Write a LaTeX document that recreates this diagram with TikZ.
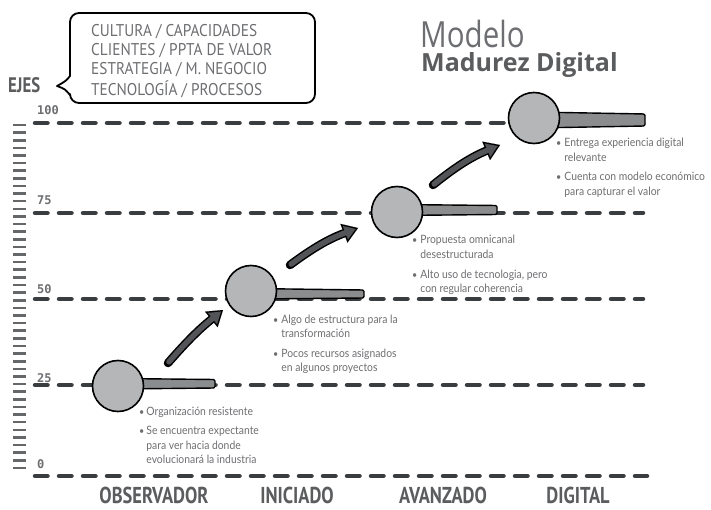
\documentclass[tikz,border=0pt]{standalone}
\usepackage{fontspec}
\setmainfont{Lato}
\newfontfamily\capsfont[FakeStretch=0.8]{PT Sans}
\newfontfamily\bubblefont[FakeStretch=0.9]{PT Sans}
\newfontfamily\titlefont[FakeStretch=0.82]{Open Sans}
\newfontfamily\titleboldfont{Open Sans}
\newfontfamily\numfont{DejaVu Sans Mono}
\newfontfamily\bulletfont[FakeStretch=0.9]{Lato}
\usetikzlibrary{arrows.meta}
\definecolor{dashc}{HTML}{3A3D40}
\definecolor{circc}{HTML}{B4B6B7}
\definecolor{barc}{HTML}{8A8C8E}
\definecolor{arrc}{HTML}{525457}
\definecolor{txtc}{HTML}{6D6E71}
\definecolor{labc}{HTML}{5B5C5E}
\definecolor{tickc}{HTML}{666769}
\newcommand{\bdot}{{\fontsize{10}{10}\selectfont\textbullet}}
\begin{document}
\begin{tikzpicture}[x=1pt,y=-1pt,
  dashline/.style={draw=dashc, line width=4.5pt, line cap=round, dash pattern=on 12.5pt off 11.5pt},
  tickline/.style={draw=tickc, line width=2.6pt},
  circ/.style={circle, draw=black, line width=1.6pt, fill=circc, minimum size=51pt, inner sep=0pt},
  barshape/.style={draw=black, fill=barc, line width=1.4pt, rounded corners=1.5pt},
  arrout/.style={draw=black, line width=8.5pt, line cap=round, -{Triangle[length=15pt,width=20pt,line width=0.01pt]}},
  arrin/.style={draw=arrc, line width=5.5pt, line cap=round, shorten >=2.7pt, shorten <=1.5pt, -{Triangle[length=10.8pt,width=14.4pt,line width=0.01pt]}},
  numlab/.style={font=\numfont\bfseries\fontsize{12}{12}\selectfont, text=txtc, anchor=base west, inner sep=0pt},
  stage/.style={font=\capsfont\bfseries\fontsize{23}{23}\selectfont, text=labc, anchor=base, inner sep=0pt},
  bul/.style={font=\bulletfont\fontsize{11.5}{14.5}\selectfont, text=txtc, anchor=base west, inner sep=0pt},
]
\useasboundingbox (0,0) rectangle (711,510);

% ruler ticks
\foreach \i in {0,...,45}{
  \draw[tickline] (13,{125+\i*7.62}) -- (26,{125+\i*7.62});
}

% dashed level lines
\draw[dashline] (35,123) -- (643,123);
\draw[dashline] (35,213) -- (643,213);
\draw[dashline] (35,299) -- (643,299);
\draw[dashline] (35,385) -- (643,385);
\draw[dashline] (35,476) -- (647,476);

% level numbers
\node[numlab] (n100) at (37,115) {100};
\node[numlab] (n75) at (37,205) {75};
\node[numlab] (n50) at (37,294) {50};
\node[numlab] (n25) at (37,382) {25};
\node[numlab] (n0) at (37,468) {0};

% bars
\draw[barshape] (118,378.5) -- (215,379.5) -- (215,388) -- (118,389) -- cycle;
\draw[barshape] (251,288.5) -- (364,290) -- (364,298) -- (251,299) -- cycle;
\draw[barshape] (397,204.5) -- (497,205.5) -- (497,214.5) -- (397,215.5) -- cycle;
\draw[barshape] (534,112) -- (645,114) -- (645,126) -- (534,128) -- cycle;

% circles
\node[circ] (c1) at (118,386) {};
\node[circ] (c2) at (251,291) {};
\node[circ] (c3) at (397,212) {};
\node[circ] (c4) at (534,118) {};

% arrows
\coordinate (a1s) at (168,363);
\coordinate (a1e) at (223,310);
\coordinate (a2s) at (290,265);
\coordinate (a2e) at (358,228);
\coordinate (a3s) at (433,185);
\coordinate (a3e) at (500,145);
\draw[arrout] (a1s) to[bend left=5] (a1e);
\draw[arrin] (a1s) to[bend left=5] (a1e);
\draw[arrout] (a2s) to[bend left=8] (a2e);
\draw[arrin] (a2s) to[bend left=8] (a2e);
\draw[arrout] (a3s) to[bend left=8] (a3e);
\draw[arrin] (a3s) to[bend left=8] (a3e);

% bullet texts
\node[bul] (b1) at (139,415) {\begin{tabular}[t]{@{}l@{\hspace{2pt}}l@{}}
\bdot & Organización resistente\\[5pt]
\bdot & Se encuentra expectante\\
 & para ver hacia donde\\
 & evolucionará la industria
\end{tabular}};
\node[bul] (b2) at (273,323) {\begin{tabular}[t]{@{}l@{\hspace{3pt}}l@{}}
\bdot & Algo de estructura para la\\
 & transformación\\[5pt]
\bdot & Pocos recursos asignados\\
 & en algunos proyectos
\end{tabular}};
\node[bul] (b3) at (412,244) {\begin{tabular}[t]{@{}l@{\hspace{3pt}}l@{}}
\bdot & Propuesta omnicanal\\
 & desestructurada\\[5pt]
\bdot & Alto uso de tecnologia, pero\\
 & con regular coherencia
\end{tabular}};
\node[bul] (b4) at (556,147) {\begin{tabular}[t]{@{}l@{\hspace{3pt}}l@{}}
\bdot & Entrega experiencia digital\\
 & relevante\\[5pt]
\bdot & Cuenta con modelo económico\\
 & para capturar el valor
\end{tabular}};

% stage labels
\node[stage] (s1) at (154,503) {OBSERVADOR};
\node[stage] (s2) at (297,503) {INICIADO};
\node[stage] (s3) at (443,503) {AVANZADO};
\node[stage] (s4) at (578,503) {DIGITAL};

% EJES and bubble
\node[font=\capsfont\bfseries\fontsize{21}{21}\selectfont, text=labc, anchor=base west, inner sep=0pt] (ejes) at (8,93) {EJES};
\draw[line width=1.8pt, line join=round] (70,95) [rounded corners=9pt] -- (70,103) -- (315,103) -- (315,13) -- (70,13) [sharp corners] -- (70,76) .. controls (66,81) .. (57,86) .. controls (65,89) .. (70,95) -- cycle;
\node[font=\bubblefont\fontsize{17}{19}\selectfont, text=txtc, anchor=base west, inner sep=0pt] (bubbletext) at (91,37) {\begin{tabular}[t]{@{}l@{}}
CULTURA / CAPACIDADES\\
CLIENTES / PPTA DE VALOR\\
ESTRATEGIA / M. NEGOCIO\\
TECNOLOGÍA / PROCESOS
\end{tabular}};

% title
\node[font=\titlefont\fontsize{36}{36}\selectfont, text=txtc, anchor=base west, inner sep=0pt] (t1) at (420,48) {Modelo};
\node[font=\titleboldfont\bfseries\fontsize{25}{25}\selectfont, text=labc, anchor=base west, inner sep=0pt] (t2) at (421,72) {Madurez Digital};
\end{tikzpicture}
\end{document}
